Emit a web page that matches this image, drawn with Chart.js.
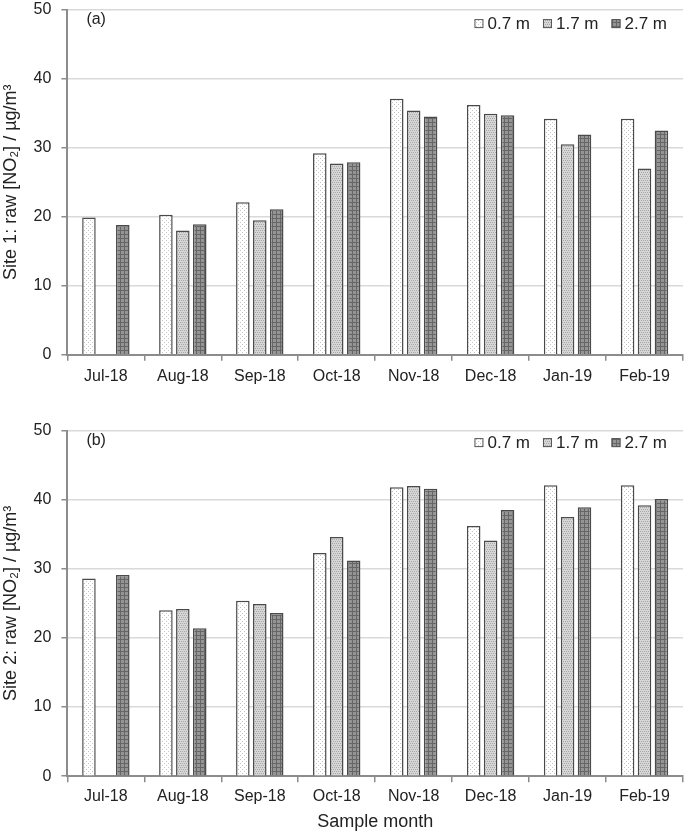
<!DOCTYPE html>
<html>
<head>
<meta charset="utf-8">
<script src="https://cdn.jsdelivr.net/npm/chart.js@4/dist/chart.umd.min.js"></script>
<style>
    body { margin: 0; background: #fff; overflow: hidden; }
    .panel { position: absolute; left: 0; width: 685px; }
</style>
</head>
<body>
<div class="panel" style="top:-10px;height:418px"><canvas id="site1"></canvas></div>
<div class="panel" style="top:411px;height:426px"><canvas id="site2"></canvas></div>
<script>
// sample months (x axis)
const months = ["Jul-18", "Aug-18", "Sep-18", "Oct-18", "Nov-18", "Dec-18", "Jan-19", "Feb-19"];
const heights = ["0.7 m", "1.7 m", "2.7 m"];

// Site 1 raw NO2, µg/m3
const site1_07 = [19.9, 20.3, 22.1, 29.2, 37.1, 36.2, 34.2, 34.2];
const site1_17 = [null, 18.0, 19.5, 27.7, 35.4, 34.9, 30.5, 27.0];
const site1_27 = [18.8, 18.9, 21.1, 27.9, 34.5, 34.7, 31.9, 32.5];

// Site 2 raw NO2, µg/m3
const site2_07 = [28.6, 24.0, 25.4, 32.3, 41.8, 36.2, 42.1, 42.1];
const site2_17 = [null, 24.2, 24.9, 34.6, 42.0, 34.1, 37.5, 39.2];
const site2_27 = [29.1, 21.4, 23.6, 31.2, 41.6, 38.5, 38.9, 40.1];

const yTicks = [0, 10, 20, 30, 40, 50];

// little fill patterns like the excel ones
function makePattern(bg, fg, kind) {
    const c = document.createElement("canvas");
    c.width = 4;
    c.height = 4;
    const g = c.getContext("2d");
    g.fillStyle = bg;
    g.fillRect(0, 0, 4, 4);
    g.fillStyle = fg;
    if (kind === "dots") {
        g.fillRect(0, 0, 1, 1);
        g.fillRect(2, 2, 1, 1);
    } else if (kind === "dense") {
        g.fillRect(0, 0, 1, 1);
        g.fillRect(2, 0, 1, 1);
        g.fillRect(1, 2, 1, 1);
        g.fillRect(3, 2, 1, 1);
    } else {
        g.fillRect(0, 0, 4, 1);
        g.fillRect(0, 0, 1, 4);
    }
    return g.createPattern(c, "repeat");
}

const fills = [
    makePattern("#ffffff", "#c4c4c4", "dots"),
    makePattern("#d6d6d6", "#a8a8a8", "dense"),
    makePattern("#949494", "#666666", "grid"),
];

const FONT = "'Liberation Sans', Arial, sans-serif";

// panel letter + legend inside the plot, top right
const panelExtras = {
    id: "panelExtras",
    afterDraw(chart, args, opts) {
        const ctx = chart.ctx;
        const area = chart.chartArea;
        ctx.save();
        ctx.textBaseline = "middle";
        ctx.fillStyle = "#222";
        ctx.font = "16px " + FONT;
        ctx.fillText(opts.text, area.left + 19, area.top + 10);

        // legend, laid out from the right
        ctx.font = "17px " + FONT;
        const y = area.top + opts.legendY;
        let x = area.right - 16;
        const sets = chart.data.datasets;
        for (let i = sets.length - 1; i >= 0; i--) {
            const label = sets[i].label;
            const w = ctx.measureText(label).width;
            x -= w;
            ctx.fillStyle = "#222";
            ctx.fillText(label, x, y + 1);
            x -= 4 + 9;
            ctx.fillStyle = sets[i].backgroundColor;
            ctx.fillRect(x, y - 4.5, 9, 9);
            ctx.strokeStyle = "#555";
            ctx.lineWidth = 1;
            ctx.strokeRect(x + 0.5, y - 4, 8, 8);
            x -= 13;
        }
        ctx.restore();
    }
};

function drawChart(id, letter, legendY, yTitle, series, showXTitle) {
    const context = document.getElementById(id).getContext("2d");
    return new Chart(context, {
        type: "bar",
        data: {
            labels: months,
            datasets: series.map((vals, i) => ({
                label: heights[i],
                data: vals,
                backgroundColor: fills[i],
                borderColor: "#4a4a4a",
                borderWidth: 1.5,
                categoryPercentage: 0.66,
                barPercentage: 0.8,
            })),
        },
        options: {
            responsive: true,
            maintainAspectRatio: false,
            animation: false,
            layout: {
                padding: { left: 0, right: 2, top: 0, bottom: showXTitle ? 4 : 16 }
            },
            scales: {
                x: {
                    grid: {
                        display: true,
                        drawOnChartArea: false,
                        drawTicks: true,
                        tickLength: 6,
                        tickColor: "#8c8c8c",
                        lineWidth: 1.5,
                    },
                    border: { display: true, color: "#8c8c8c", width: 2 },
                    ticks: {
                        color: "#222",
                        font: { family: FONT, size: 16 },
                        padding: showXTitle ? 5 : 6,
                        maxRotation: 0,
                    },
                    title: {
                        display: showXTitle,
                        text: "Sample month",
                        color: "#222",
                        font: { family: FONT, size: 18 },
                        padding: { top: 0, bottom: 0 },
                    },
                },
                y: {
                    min: 0,
                    max: 50,
                    afterBuildTicks: (axis) => {
                        axis.ticks = yTicks.map((v) => ({ value: v }));
                    },
                    grid: {
                        color: "#d9d9d9",
                        lineWidth: 1.5,
                        tickLength: 6,
                        tickColor: "#8c8c8c",
                    },
                    border: { display: true, color: "#8c8c8c", width: 2 },
                    ticks: {
                        color: "#222",
                        font: { family: FONT, size: 16 },
                        padding: 10,
                    },
                    title: {
                        display: true,
                        text: yTitle,
                        color: "#222",
                        font: { family: FONT, size: 18 },
                        padding: { top: 0, bottom: 2 },
                    },
                },
            },
            plugins: {
                legend: { display: false },
                tooltip: { enabled: false },
                panelExtras: { text: letter, legendY: legendY },
            },
        },
        plugins: [panelExtras],
    });
}

drawChart("site1", "(a)", 14, "Site 1: raw [NO\u2082] / \u00b5g/m\u00b3", [site1_07, site1_17, site1_27], false);
drawChart("site2", "(b)", 12, "Site 2: raw [NO\u2082] / \u00b5g/m\u00b3", [site2_07, site2_17, site2_27], true);
</script>
</body>
</html>
